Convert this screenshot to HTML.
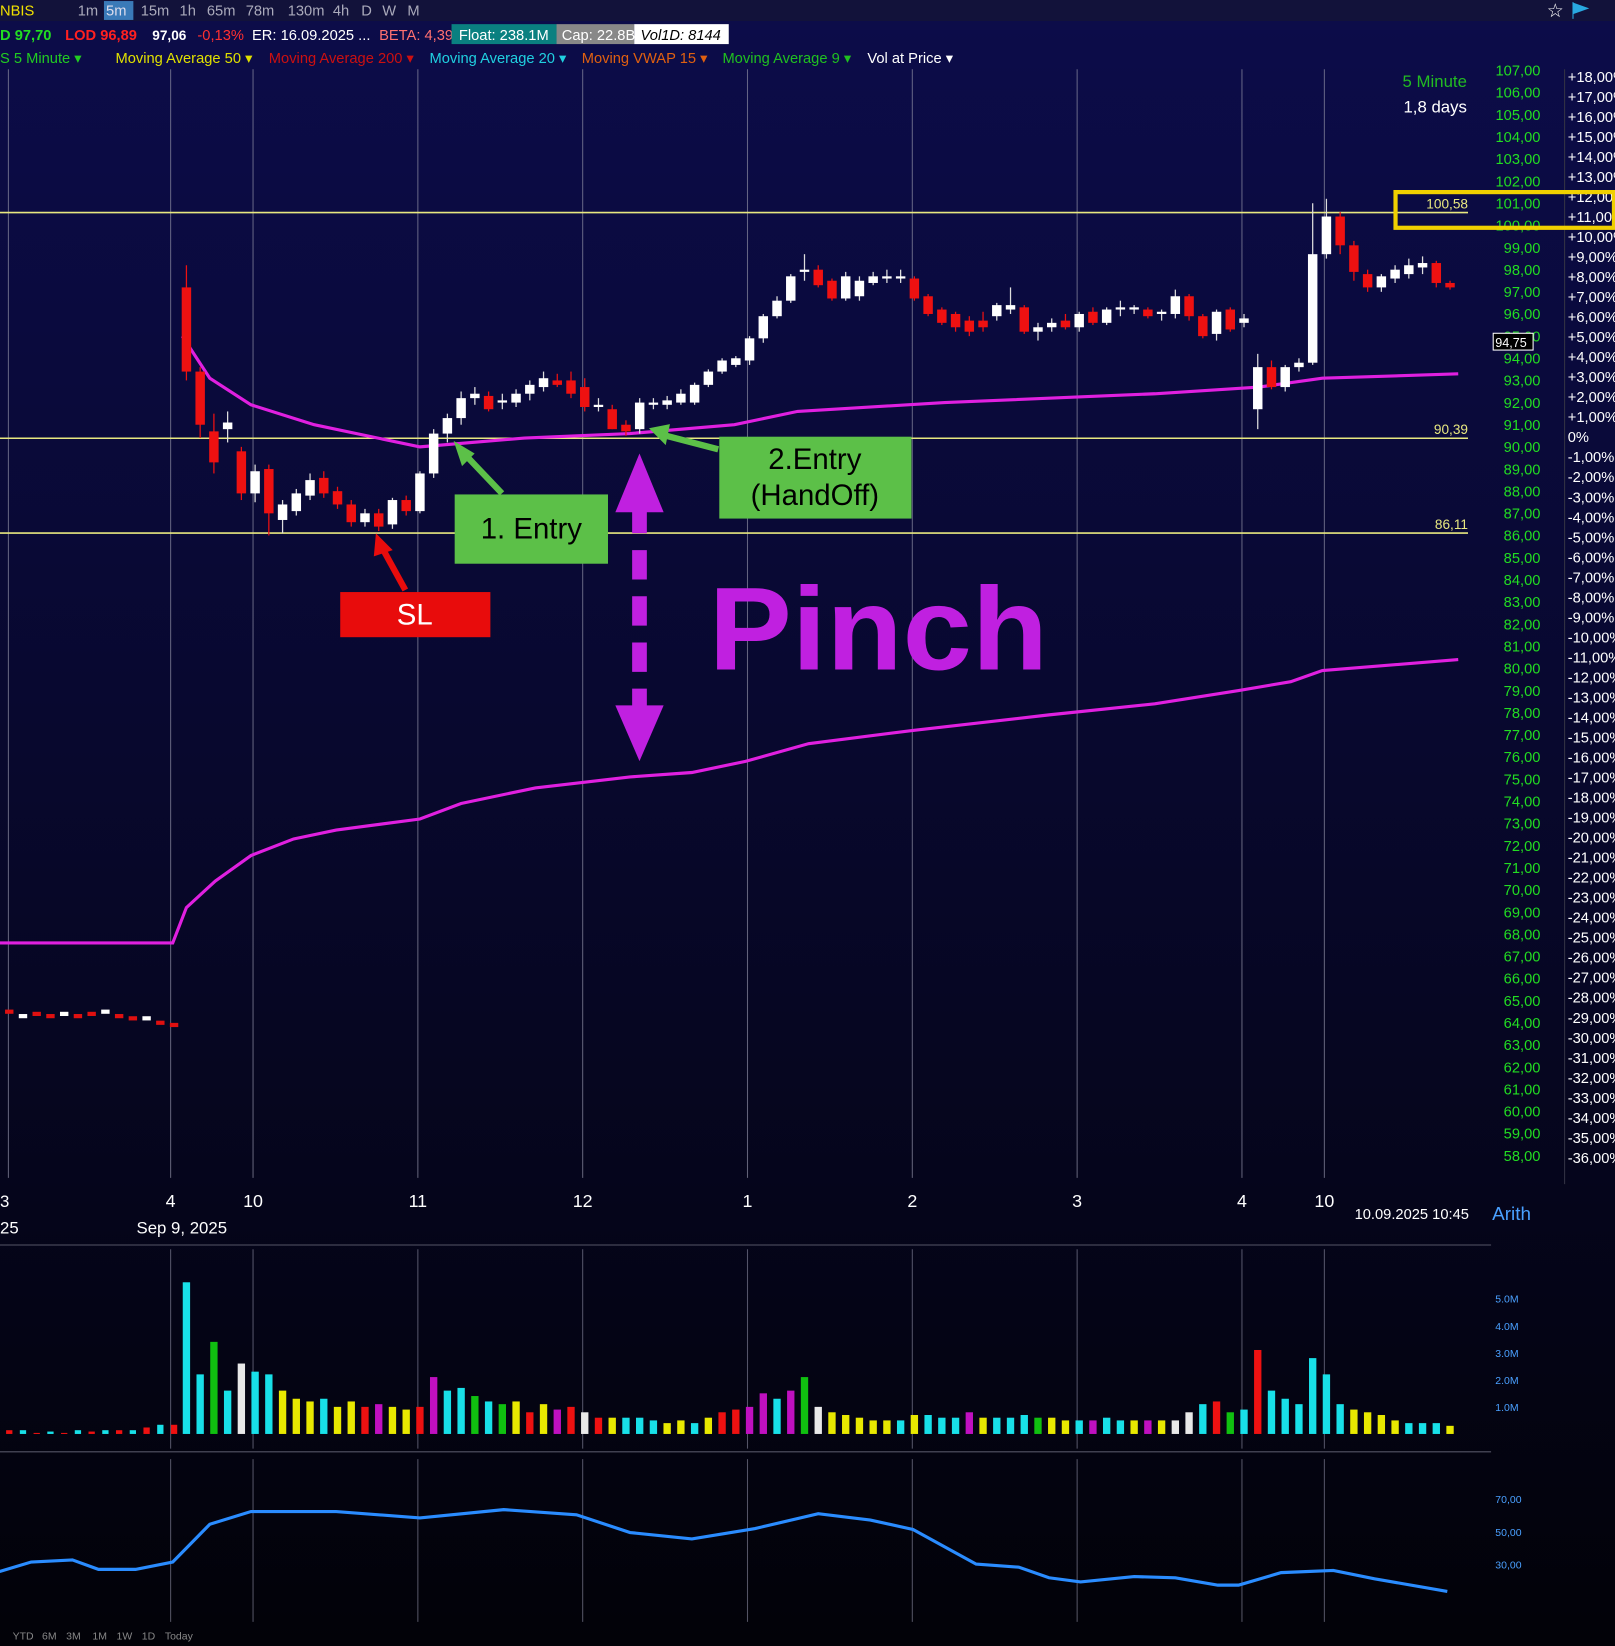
<!DOCTYPE html>
<html><head><meta charset="utf-8"><style>
html,body{margin:0;padding:0;background:#000;overflow:hidden}
svg{display:block;font-family:"Liberation Sans",sans-serif}
</style></head><body>
<svg id="chart" width="1615" height="1646" viewBox="0 0 1538 1568" preserveAspectRatio="none" xmlns="http://www.w3.org/2000/svg">
<defs>
<linearGradient id="bg" x1="0" y1="0" x2="0" y2="1">
<stop offset="0" stop-color="#0c0c4a"/><stop offset="0.45" stop-color="#08082e"/><stop offset="1" stop-color="#020208"/>
</linearGradient>
</defs>
<rect x="0" y="0" width="1538" height="1568" fill="url(#bg)"/>
<rect x="0" y="0" width="1538" height="20" fill="#12123a"/>
<g font-size="14">
<text x="0" y="15" fill="#f0e000">NBIS</text>
<text x="74" y="15" fill="#aab">1m</text>
<rect x="99" y="1" width="28" height="18" fill="#3a7ab8"/>
<text x="101" y="15" fill="#dde">5m</text>
<text x="134" y="15" fill="#aab">15m</text>
<text x="171" y="15" fill="#aab">1h</text>
<text x="197" y="15" fill="#aab">65m</text>
<text x="234" y="15" fill="#aab">78m</text>
<text x="274" y="15" fill="#aab">130m</text>
<text x="317" y="15" fill="#aab">4h</text>
<text x="344" y="15" fill="#aab">D</text>
<text x="364" y="15" fill="#aab">W</text>
<text x="388" y="15" fill="#aab">M</text>
<text x="1473" y="16" fill="#fff" font-size="18">☆</text>
<path d="M1498,2 v16 M1498,3 l14,5 l-14,5z" fill="#29a8e0" stroke="#29a8e0"/>
</g>
<g font-size="14" font-weight="bold">
<text x="0" y="38" fill="#22dd22">D 97,70</text>
<text x="62" y="38" fill="#ff2020">LOD 96,89</text>
<text x="145" y="38" fill="#fff" font-size="13">97,06</text>
<text x="188" y="38" fill="#ff3030" font-weight="normal">-0,13%</text>
<text x="240" y="38" fill="#fff" font-weight="normal">ER: 16.09.2025 ...</text>
<text x="361" y="38" fill="#ff7070" font-weight="normal">BETA: 4,39</text>
<rect x="430" y="23" width="100" height="19" fill="#0a8080"/>
<text x="437" y="38" fill="#fff" font-weight="normal">Float: 238.1M</text>
<rect x="530" y="23" width="74" height="19" fill="#888"/>
<text x="535" y="38" fill="#fff" font-weight="normal">Cap: 22.8B</text>
<rect x="604" y="23" width="90" height="19" fill="#fff"/>
<text x="610" y="38" fill="#000" font-weight="normal" font-style="italic">Vol1D: 8144</text>
</g>
<g font-size="14">
<text x="0" y="60" fill="#22cc22">S 5 Minute ▾</text>
<text x="110" y="60" fill="#e0e000">Moving Average 50 ▾</text>
<text x="256" y="60" fill="#cc1010">Moving Average 200 ▾</text>
<text x="409" y="60" fill="#20d0e0">Moving Average 20 ▾</text>
<text x="554" y="60" fill="#e06010">Moving VWAP 15 ▾</text>
<text x="688" y="60" fill="#20c020">Moving Average 9 ▾</text>
<text x="826" y="60" fill="#fff">Vol at Price ▾</text>
</g>
<text x="1397" y="83" fill="#22bb22" font-size="16" text-anchor="end">5 Minute</text>
<text x="1397" y="107" fill="#fff" font-size="16" text-anchor="end">1,8 days</text>
<line x1="1490" y1="66" x2="1490" y2="1128" stroke="#334"/>
<g id="grid"></g>
<g id="levels"></g>
<g id="lines"></g>
<g id="candles"></g>
<g id="axes"></g>
<g id="vol"></g>
<g id="osc"></g>
<g id="ann">
<rect x="1329" y="183" width="208" height="34" fill="none" stroke="#f0d000" stroke-width="4"/>
<line x1="609" y1="480" x2="609" y2="680" stroke="#c020e0" stroke-width="14" stroke-dasharray="28,16"/>
<path d="M586,488 L609,432 L632,488 z M586,672 L609,725 L632,672 z" fill="#c020e0"/>
<text x="675" y="638" fill="#c020e0" font-size="112" font-weight="bold" textLength="323" lengthAdjust="spacingAndGlyphs">Pinch</text>
<rect x="433" y="471" width="146" height="66" fill="#5cc048"/>
<text x="506" y="513" fill="#000" font-size="28" text-anchor="middle">1. Entry</text>
<path d="M478,470 L440,430" stroke="#5cc048" stroke-width="6"/>
<path d="M432,420 L452,432 L440,444 z" fill="#5cc048"/>
<rect x="685" y="416" width="183" height="78" fill="#5cc048"/>
<text x="776" y="447" fill="#000" font-size="28" text-anchor="middle">2.Entry</text>
<text x="776" y="481" fill="#000" font-size="28" text-anchor="middle">(HandOff)</text>
<path d="M684,428 L630,414" stroke="#5cc048" stroke-width="6"/>
<path d="M618,408 L638,404 L634,424 z" fill="#5cc048"/>
<rect x="324" y="564" width="143" height="43" fill="#e80c0c"/>
<text x="395" y="595" fill="#fff" font-size="28" text-anchor="middle">SL</text>
<path d="M386,562 L364,522" stroke="#e80c0c" stroke-width="6"/>
<path d="M358,508 L374,524 L356,530 z" fill="#e80c0c"/>
</g>
<g font-size="16" fill="#fff">
<text x="0" y="1150">3</text><text x="0" y="1175">25</text>
<text x="130" y="1175">Sep 9, 2025</text>
<text x="1290" y="1161" font-size="14">10.09.2025 10:45</text>
<text x="1421" y="1162" fill="#49a0ff" font-size="18">Arith</text>
</g>
<line x1="0" y1="1186" x2="1420" y2="1186" stroke="#556"/>
<line x1="0" y1="1383" x2="1420" y2="1383" stroke="#556"/>
<g font-size="10" fill="#888">
<text x="12" y="1562">YTD</text><text x="40" y="1562">6M</text><text x="63" y="1562">3M</text><text x="88" y="1562">1M</text><text x="111" y="1562">1W</text><text x="135" y="1562">1D</text><text x="157" y="1562">Today</text>
</g>
<script>
const NS='http://www.w3.org/2000/svg';
// ---- data ----
const hourLabels=['4','10','11','12','1','2','3','4','10'];
const hourIdx=[-1.15,4.85,16.85,28.85,40.85,52.85,64.85,76.85,82.85];
const priceTicks=[107,106,105,104,103,102,101,100,99,98,97,96,95,94,93,92,91,90,89,88,87,86,85,84,83,82,81,80,79,78,77,76,75,74,73,72,71,70,69,68,67,66,65,64,63,62,61,60,59,58];
const pctTicks=[18,17,16,15,14,13,12,11,10,9,8,7,6,5,4,3,2,1,0,-1,-2,-3,-4,-5,-6,-7,-8,-9,-10,-11,-12,-13,-14,-15,-16,-17,-18,-19,-20,-21,-22,-23,-24,-25,-26,-27,-28,-29,-30,-31,-32,-33,-34,-35,-36];
const levelPrices=[100.58,90.39,86.11];
const opens=[97.2,93.4,90.7,90.8,89.8,87.9,89.0,86.7,87.1,87.8,88.6,88.0,87.4,86.6,87.0,86.5,87.6,87.1,88.8,90.6,91.3,92.2,92.3,92.0,92.0,92.4,92.7,93.0,93.0,92.7,91.8,91.7,91.0,90.8,91.9,91.9,92.0,92.0,92.8,93.4,93.7,93.9,94.9,95.9,96.6,97.9,98.0,97.5,96.7,96.8,97.4,97.6,97.6,97.6,96.8,96.2,96.0,95.7,95.7,95.9,96.2,96.3,95.2,95.4,95.7,95.4,96.1,95.6,96.2,96.2,96.2,96.0,96.0,96.8,95.9,95.1,96.2,95.6,91.7,93.6,92.7,93.6,93.8,98.7,100.4,99.1,97.8,97.2,97.6,97.8,98.1,98.3,97.4];
const highs=[98.2,93.6,91.5,91.6,90.0,89.2,89.2,87.6,88.1,88.8,88.9,88.2,87.6,87.2,87.2,87.7,87.8,88.9,90.8,91.5,92.5,92.7,92.5,92.4,92.6,93.0,93.4,93.3,93.4,93.1,92.2,91.9,91.2,92.2,92.2,92.3,92.6,92.9,93.5,94.0,94.1,95.0,96.0,96.8,97.8,98.7,98.2,97.6,97.9,97.7,97.9,98.0,98.0,97.7,96.9,96.3,96.1,95.9,96.1,96.5,97.2,96.4,95.6,95.8,96.0,96.1,96.3,96.3,96.6,96.4,96.3,96.2,97.1,96.9,96.0,96.2,96.3,96.0,94.2,93.9,93.7,94.0,101.0,101.2,100.6,99.3,98.0,97.8,98.2,98.5,98.6,98.4,97.5];
const lows=[93.0,90.4,88.8,90.2,87.6,87.5,86.0,86.1,86.9,87.6,87.7,87.2,86.4,86.4,86.2,86.3,86.9,87.0,88.6,90.2,91.0,91.9,91.6,91.7,91.8,92.1,92.5,92.7,92.2,91.6,91.6,90.8,90.5,90.6,91.7,91.7,91.9,91.9,92.7,93.3,93.6,93.7,94.7,95.8,96.5,97.5,97.2,96.6,96.6,96.6,97.3,97.4,97.4,96.6,95.9,95.5,95.2,95.0,95.2,95.7,96.0,95.1,94.8,95.2,95.3,95.2,95.5,95.5,95.9,96.0,95.8,95.7,95.8,95.7,94.9,94.8,95.2,95.4,90.8,92.6,92.5,93.4,93.7,98.5,98.7,97.5,97.0,97.0,97.4,97.6,97.8,97.2,97.1];
const closes=[93.4,91.0,89.3,91.1,87.9,88.9,87.0,87.4,87.9,88.5,87.9,87.4,86.6,87.0,86.4,87.6,87.1,88.8,90.6,91.3,92.2,92.4,91.7,92.1,92.4,92.8,93.1,92.8,92.4,91.8,91.9,90.8,90.7,92.0,92.0,92.1,92.4,92.8,93.4,93.9,94.0,94.9,95.9,96.6,97.7,98.0,97.3,96.7,97.7,97.5,97.7,97.7,97.7,96.7,96.0,95.6,95.4,95.2,95.4,96.4,96.4,95.2,95.4,95.6,95.4,96.0,95.6,96.2,96.3,96.3,95.9,96.1,96.8,95.9,95.0,96.1,95.3,95.8,93.6,92.7,93.6,93.8,98.7,100.4,99.1,97.9,97.2,97.7,98.0,98.2,98.3,97.4,97.2];
const preIdx=[-12.9,-11.9,-10.9,-9.9,-8.9,-7.9,-6.9,-5.9,-4.9,-3.9,-2.9,-1.9,-0.9];
const prePrices=[64.5,64.3,64.4,64.3,64.4,64.3,64.4,64.5,64.3,64.2,64.2,64.0,63.9];
const vwapIdx=[-0.3,1.7,4.7,9.3,17.0,24.6,32.3,39.9,44.5,55.2,70.5,78.1,82.7,92.6];
const vwapVals=[95.0,93.1,91.9,91.0,90.0,90.4,90.6,91.0,91.6,92.0,92.4,92.7,93.1,93.3];
const maIdx=[-13.6,-1.0,0.0,2.1,4.7,7.8,10.9,17.0,20.0,25.4,32.3,36.8,40.7,45.3,52.9,62.8,70.5,76.6,80.4,82.7,92.6];
const maVals=[67.6,67.6,69.2,70.4,71.55,72.3,72.7,73.2,73.9,74.6,75.1,75.3,75.8,76.6,77.2,77.9,78.4,79.0,79.4,79.9,80.4];
const volumes=[5.6,2.2,3.4,1.6,2.6,2.3,2.2,1.6,1.3,1.2,1.3,1.0,1.2,1.0,1.1,1.0,0.9,1.0,2.1,1.6,1.7,1.4,1.2,1.1,1.2,0.8,1.1,0.9,1.0,0.8,0.6,0.6,0.6,0.6,0.5,0.4,0.5,0.4,0.6,0.8,0.9,1.0,1.5,1.3,1.6,2.1,1.0,0.8,0.7,0.6,0.5,0.5,0.5,0.7,0.7,0.6,0.6,0.8,0.6,0.6,0.6,0.7,0.6,0.6,0.5,0.5,0.5,0.6,0.5,0.5,0.5,0.5,0.5,0.8,1.1,1.2,0.8,0.9,3.1,1.6,1.3,1.1,2.8,2.2,1.1,0.9,0.8,0.7,0.5,0.4,0.4,0.4,0.3];
const volColors=['c','c','g','c','w','c','c','y','y','y','c','y','y','r','m','y','y','r','m','c','c','g','c','g','y','r','y','m','r','w','r','y','c','c','c','y','y','c','y','r','r','m','m','c','m','g','w','y','y','y','y','y','c','y','c','c','c','m','y','c','c','c','g','y','y','c','m','c','c','y','m','y','w','w','c','r','g','c','r','c','c','c','c','c','c','y','y','y','y','c','c','c','y'];
const preVol=[0.1,0.1,0,0.05,0,0.1,0.05,0.1,0.1,0.1,0.2,0.3,0.3];
const oscIdx=[-13.6,-11.3,-8.3,-6.4,-3.7,-1.0,1.7,4.7,10.9,17.0,23.1,28.4,32.3,36.8,41.4,46.0,49.8,52.9,57.5,60.6,62.8,65.1,69.0,72.0,75.1,76.6,79.7,83.5,86.5,91.8];
const oscVals=[25.5,31.3,32.6,26.8,26.8,31.3,54.5,62.3,62.3,58.4,63.5,60.3,49.4,45.5,51.9,61,57.1,51.3,30,28.1,21.6,19,22.3,21.6,17.1,17.1,24.8,26.1,21,13.2];
// ---- scales ----
const xs=i=>171+(i+0.5)*13.08;
const ys=p=>67+(107-p)*21.1;
const yv=v=>1366-v*25.8;
const yo=v=>1428+(70-v)*1.55;
const yp=q=>73+(18-q)*19.07;
function el(tag,attrs,parent,txt){const e=document.createElementNS(NS,tag);for(const k in attrs)e.setAttribute(k,attrs[k]);if(txt!==undefined)e.textContent=txt;parent.appendChild(e);return e;}
const G=id=>document.getElementById(id);
hourIdx.forEach((h,k)=>{
  const x=xs(h);
  const l=el('line',{x1:x,y1:66,x2:x,y2:1122,stroke:'#8a8aa0','stroke-width':1,opacity:0.7},G('grid'));
  
  
  [[1190,1380],[1390,1545]].forEach(r=>{const m=el('line',{x1:x,y1:r[0],x2:x,y2:r[1],stroke:'#8a8aa0',opacity:0.6},G('grid'));
  
  });
  const t=el('text',{x:x,y:1150,fill:'#fff','font-size':17,'text-anchor':'middle'},G('axes'),hourLabels[k]);
  
  
});
const l0=el('line',{x1:8,y1:66,x2:8,y2:1122,stroke:'#8a8aa0',opacity:0.7},G('grid'));


levelPrices.forEach((p,k)=>{
  const l=el('line',{x1:0,y1:ys(p),x2:1398,y2:ys(p),stroke:'#e8e880','stroke-width':1.5},G('levels'));
  
  
  const t=el('text',{x:1398,y:ys(p)-4,fill:'#e8e880','font-size':13,'text-anchor':'end'},G('levels'),p.toFixed(2).replace('.',','));
  
  
});
function poly(ix,vals,fy,attrs,parent,name){
  const pts=ix.map((i,k)=>xs(i).toFixed(1)+','+fy(vals[k]).toFixed(1)).join(' ');
  const p=el('polyline',Object.assign({points:pts,fill:'none'},attrs),parent);
  
  
}
poly(vwapIdx,vwapVals,ys,{stroke:'#e020e0','stroke-width':3},G('lines'),'vwap-line');
poly(maIdx,maVals,ys,{stroke:'#e020e0','stroke-width':3},G('lines'),'ma200-line');
preIdx.forEach((i,k)=>{
  const r=el('rect',{x:xs(i)-4,y:ys(prePrices[k])-2,width:8,height:4,fill:k%3==1?'#fff':'#e01010'},G('candles'));
  
  
});
opens.forEach((o,i)=>{
  const c=closes[i],up=c>=o,x=xs(i);
  const col=up?'#ffffff':'#ee1111';
  const w=el('line',{x1:x,y1:ys(highs[i]),x2:x,y2:ys(lows[i]),stroke:up?'#ddd':'#ee1111','stroke-width':1.2},G('candles'));
  
  
  const top=ys(Math.max(o,c)),h=Math.max(2,Math.abs(ys(o)-ys(c)));
  const b=el('rect',{x:x-4.5,y:top,width:9,height:h,fill:col},G('candles'));
  
  
});
priceTicks.forEach(p=>{
  const t=el('text',{x:1467,y:ys(p)+5,fill:'#22dd22','font-size':14,'text-anchor':'end'},G('axes'),p.toFixed(2).replace('.',','));
  
  
});
pctTicks.forEach(q=>{
  const s=q===0?'0%':(q>0?'+':'')+q.toFixed(2).replace('.',',')+'%';
  const t=el('text',{x:1493,y:yp(q)+5,fill:'#fff','font-size':14},G('axes'),s);
  
  
});
const pr=el('rect',{x:1422,y:ys(94.75)-8,width:38,height:16,fill:'#000',stroke:'#fff'},G('axes'));


const pt=el('text',{x:1424,y:ys(94.75)+5,fill:'#fff','font-size':12},G('axes'),'94,75');


const vcol={c:'#18e0e8',g:'#10c010',w:'#e8e8e8',y:'#e8e800',r:'#ee1111',m:'#c010c0'};
volumes.forEach((v,i)=>{
  const r=el('rect',{x:xs(i)-3.5,y:yv(v),width:7,height:1366-yv(v),fill:vcol[volColors[i]]},G('vol'));
  
  
});
preVol.forEach((v,k)=>{
  const r=el('rect',{x:xs(preIdx[k])-3,y:yv(v)-1,width:6,height:1366-yv(v)+1,fill:k%2?'#18e0e8':'#ee1111'},G('vol'));
  
  
});
[5,4,3,2,1].forEach(v=>{
  const t=el('text',{x:1424,y:yv(v)+4,fill:'#4aa0ff','font-size':10},G('vol'),v+'.0M');
  
  
});
poly(oscIdx,oscVals,yo,{stroke:'#2a8cff','stroke-width':3},G('osc'),'oscillator-line');
[70,50,30].forEach(v=>{
  const t=el('text',{x:1424,y:yo(v)+4,fill:'#4aa0ff','font-size':10},G('osc'),v.toFixed(2).replace('.',','));
  
  
});
</script>
</svg>
</body></html>
